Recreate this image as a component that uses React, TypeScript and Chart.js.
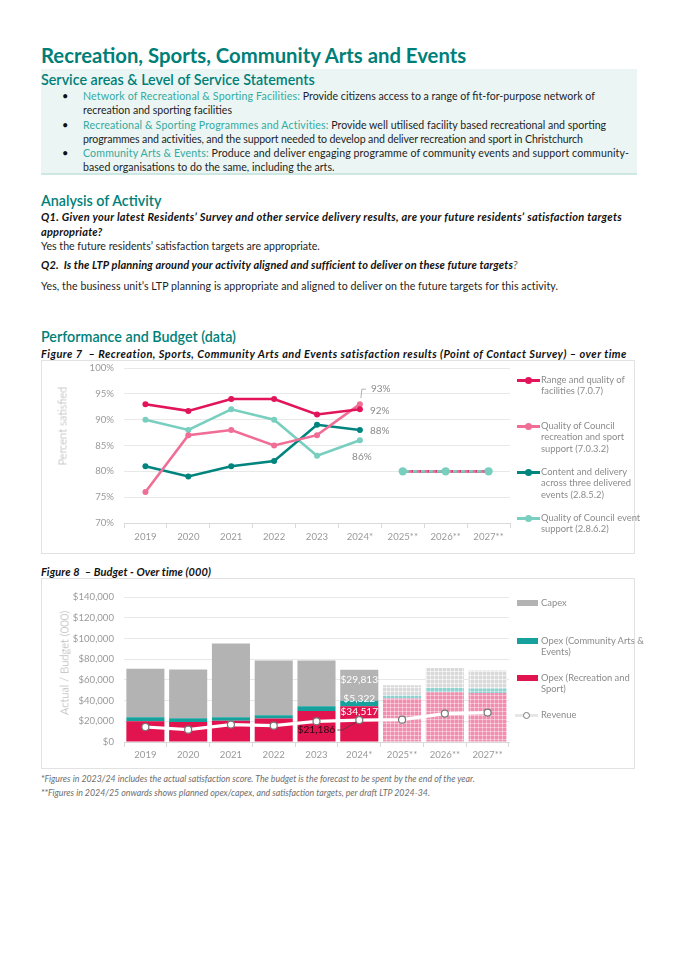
import React, { useEffect, useRef } from "react";
import { Chart, registerables } from "chart.js";

Chart.register(...registerables);

// ---------- DATA ----------
const years = ["2019", "2020", "2021", "2022", "2023", "2024*", "2025**", "2026**", "2027**"];

// Figure 7 – satisfaction (%)
const facilities = [93, 91.7, 94, 94, 91, 92, null, null, null];
const recSupport = [76, 87, 88, 85, 87, 93, null, null, null];
const eventsDelivery = [81, 79, 81, 82, 89, 88, null, null, null];
const eventSupport = [90, 88, 92, 90, 83, 86, null, null, null];
const targets = [null, null, null, null, null, null, 80, 80, 80];
const pctMin = 70;
const pctMax = 100;
const pctStep = 5;

// Figure 8 – budget ($000)
const opexRec = [20000, 19400, 20600, 22600, 30000, 34517, 41900, 48000, 47400];
const opexArts = [3900, 3500, 3300, 3200, 4500, 5322, 2900, 4200, 4200];
const capex = [46800, 47100, 71300, 52900, 44200, 29813, 10000, 19300, 17400];
const revenue = [14500, 11900, 16800, 15800, 20000, 21186, 21600, 27400, 28400];
const budgetMax = 140000;
const budgetStep = 20000;
const firstPlannedIndex = 6;
const labelIndex = 5;

const legend1 = [
  ["Range and quality of", "facilities (7.0.7)"],
  ["Quality of Council", "recreation and sport", "support (7.0.3.2)"],
  ["Content and delivery", "across three delivered", "events (2.8.5.2)"],
  ["Quality of Council event", "support (2.8.6.2)"],
];
const legend2 = [["Capex"], ["Opex (Community Arts &", "Events)"], ["Opex (Recreation and", "Sport)"], ["Revenue"]];

// ---------- STYLE ----------
const FONT = "Lato, 'Noto Sans', sans-serif";
const TEAL_HEAD = "#007F79";
const TEAL_LEAD = "#34AAA0";
const C_FAC = "#E2145A";
const C_REC = "#F06E96";
const C_DEL = "#00847E";
const C_EVT = "#79CFBF";
const B_CAP = "#B3B3B3";
const B_ART = "#16A19C";
const B_REC = "#E11450";
const GRID = "#E8E8E8";
const TICK = "#9A9A9A";
const TICK_SIZE = 9.6;

Chart.defaults.font.family = FONT;

const fmt = (v: number) => v.toLocaleString("en-US");

function T(props: { x: number; y: number; size: number; lh?: number; style?: any; children: any }) {
  const lh = props.lh ?? Math.round(props.size * 1.3);
  return (
    <div
      style={{
        position: "absolute",
        left: props.x,
        top: props.y - lh / 2,
        lineHeight: lh + "px",
        height: lh,
        fontSize: props.size,
        whiteSpace: "pre",
        ...props.style,
      }}
    >
      {props.children}
    </div>
  );
}

function makePattern(base: string, line: string) {
  const c = document.createElement("canvas");
  c.width = 4;
  c.height = 4;
  const g = c.getContext("2d")!;
  g.fillStyle = base;
  g.fillRect(0, 0, 4, 4);
  g.fillStyle = line;
  g.fillRect(0, 0, 4, 1);
  g.fillRect(0, 0, 1, 4);
  return g.createPattern(c, "repeat")!;
}

const yAfterFit = (axis: any) => {
  axis.width = 82;
  axis.paddingTop = 0;
  axis.paddingBottom = 0;
};

function SatisfactionChart() {
  const ref = useRef<HTMLCanvasElement>(null);
  useEffect(() => {
    const labelPlugin = {
      id: "satLabels",
      afterDatasetsDraw(chart: any) {
        const ctx = chart.ctx;
        const i = labelIndex;
        const pF = chart.getDatasetMeta(0).data[i];
        const pR = chart.getDatasetMeta(1).data[i];
        const pD = chart.getDatasetMeta(2).data[i];
        const pE = chart.getDatasetMeta(3).data[i];
        ctx.save();
        ctx.font = "10px " + FONT;
        ctx.fillStyle = "#8A8A8A";
        ctx.textBaseline = "middle";
        ctx.textAlign = "left";
        ctx.strokeStyle = "#A0A0A0";
        ctx.lineWidth = 0.8;
        ctx.beginPath();
        ctx.moveTo(pR.x + 1, pR.y - 6);
        ctx.lineTo(pR.x + 2, pR.y - 15);
        ctx.lineTo(pR.x + 6, pR.y - 15);
        ctx.stroke();
        ctx.fillText(recSupport[i] + "%", pR.x + 11, pR.y - 15);
        ctx.fillText(facilities[i] + "%", pF.x + 10, pF.y + 1);
        ctx.fillText(eventsDelivery[i] + "%", pD.x + 10, pD.y + 1);
        ctx.textAlign = "center";
        ctx.fillText(eventSupport[i] + "%", pE.x + 2, pE.y + 16);
        ctx.restore();
      },
    };
    const main = (label: string, data: any[], color: string) => ({
      label,
      data,
      borderColor: color,
      backgroundColor: color,
      pointBackgroundColor: color,
      borderWidth: 2.6,
      pointRadius: 3,
      pointHoverRadius: 3,
      pointBorderWidth: 0,
      order: 5,
    });
    const future = (color: string, offset: number, radius: number, order: number) => ({
      label: "target",
      data: targets,
      borderColor: color,
      backgroundColor: color,
      pointBackgroundColor: color,
      borderWidth: 2.6,
      borderDash: [4, 4],
      borderDashOffset: offset,
      pointRadius: radius,
      pointHoverRadius: radius,
      pointBorderWidth: 0,
      order,
    });
    const chart = new Chart(ref.current!, {
      type: "line",
      data: {
        labels: years,
        datasets: [
          main(legend1[0].join(" "), facilities, C_FAC),
          main(legend1[1].join(" "), recSupport, C_REC),
          main(legend1[2].join(" "), eventsDelivery, C_DEL),
          main(legend1[3].join(" "), eventSupport, C_EVT),
          future(C_FAC, 0, 0, 4),
          future(C_REC, 3, 0, 1),
          future(C_DEL, 5, 0, 2),
          future(C_EVT, 6, 4.2, 0),
        ],
      },
      options: {
        animation: false,
        responsive: true,
        maintainAspectRatio: false,
        layout: { padding: { left: 0, right: 10, top: 7, bottom: 0 } },
        plugins: { legend: { display: false }, tooltip: { enabled: false } },
        scales: {
          x: {
            offset: true,
            grid: { drawOnChartArea: false, drawTicks: true, tickLength: 5, color: "#D9D9D9", offset: true },
            border: { color: "#D9D9D9" },
            ticks: { color: TICK, font: { size: TICK_SIZE }, padding: 3, maxRotation: 0 },
            afterFit: (axis: any) => {
              axis.height = 30;
            },
          },
          y: {
            min: pctMin,
            max: pctMax,
            ticks: { stepSize: pctStep, callback: (v: any) => v + "%", color: TICK, font: { size: TICK_SIZE }, padding: 10 },
            grid: { color: GRID, drawTicks: false },
            border: { display: false },
            afterFit: yAfterFit,
          },
        },
      } as any,
      plugins: [labelPlugin],
    });
    return () => chart.destroy();
  }, []);
  return (
    <div style={{ position: "absolute", left: 0, top: 0, width: 478, height: 192 }}>
      <canvas ref={ref} />
    </div>
  );
}

function BudgetChart() {
  const ref = useRef<HTMLCanvasElement>(null);
  useEffect(() => {
    const pRec = makePattern("#F28DB0", "rgba(255,255,255,0.4)");
    const pArt = makePattern("#8DD3D0", "rgba(255,255,255,0.4)");
    const pCap = makePattern("#D9D9D9", "rgba(255,255,255,0.55)");
    const colors = (solid: string, pat: any) => years.map((_, i) => (i >= firstPlannedIndex ? pat : solid));
    const labelPlugin = {
      id: "budgetLabels",
      afterDatasetsDraw(chart: any) {
        const ctx = chart.ctx;
        const i = labelIndex;
        const bRec = chart.getDatasetMeta(0).data[i];
        const bArt = chart.getDatasetMeta(1).data[i];
        const bCap = chart.getDatasetMeta(2).data[i];
        const rv = chart.getDatasetMeta(3).data[i];
        ctx.save();
        ctx.font = "10.2px " + FONT;
        ctx.textBaseline = "middle";
        ctx.textAlign = "center";
        ctx.fillStyle = "#FFFFFF";
        ctx.fillText("$" + fmt(capex[i]), bCap.x, bCap.y + 10);
        ctx.fillText("$" + fmt(opexArts[i]), bArt.x, bArt.y - 2);
        ctx.fillText("$" + fmt(opexRec[i]), bRec.x, bRec.y + 5);
        ctx.strokeStyle = "#5A3540";
        ctx.lineWidth = 0.8;
        ctx.beginPath();
        ctx.moveTo(rv.x - 22, rv.y + 10);
        ctx.lineTo(rv.x - 17, rv.y + 10);
        ctx.lineTo(rv.x - 3, rv.y + 2);
        ctx.stroke();
        ctx.textAlign = "right";
        ctx.fillStyle = "#2A0A14";
        ctx.fillText("$" + fmt(revenue[i]), rv.x - 24, rv.y + 10);
        ctx.restore();
      },
    };
    const chart = new Chart(ref.current!, {
      type: "bar",
      data: {
        labels: years,
        datasets: [
          { type: "bar", label: legend2[2].join(" "), data: opexRec, backgroundColor: colors(B_REC, pRec), order: 2 },
          { type: "bar", label: legend2[1].join(" "), data: opexArts, backgroundColor: colors(B_ART, pArt), order: 2 },
          { type: "bar", label: legend2[0].join(" "), data: capex, backgroundColor: colors(B_CAP, pCap), order: 2 },
          {
            type: "line",
            label: legend2[3].join(" "),
            data: revenue,
            borderColor: "#FFFFFF",
            borderWidth: 3.2,
            pointRadius: 3.5,
            pointHoverRadius: 3.5,
            pointBackgroundColor: "#FFFFFF",
            pointBorderColor: "#777777",
            pointBorderWidth: 1.2,
            order: 0,
          },
        ],
      },
      options: {
        animation: false,
        responsive: true,
        maintainAspectRatio: false,
        layout: { padding: { left: 0, right: 7, top: 18, bottom: 0 } },
        datasets: { bar: { barPercentage: 0.89, categoryPercentage: 1 } },
        plugins: { legend: { display: false }, tooltip: { enabled: false } },
        scales: {
          x: {
            stacked: true,
            grid: { drawOnChartArea: false, drawTicks: true, tickLength: 5, color: "#D9D9D9", offset: true },
            border: { color: "#D9D9D9" },
            ticks: { color: TICK, font: { size: TICK_SIZE }, padding: 2, maxRotation: 0 },
            afterFit: (axis: any) => {
              axis.height = 27;
            },
          },
          y: {
            stacked: true,
            min: 0,
            max: budgetMax,
            ticks: {
              stepSize: budgetStep,
              callback: (v: any) => "$" + fmt(v),
              color: TICK,
              font: { size: TICK_SIZE },
              padding: 10,
            },
            grid: { color: GRID, drawTicks: false },
            border: { display: false },
            afterFit: yAfterFit,
          },
        },
      } as any,
      plugins: [labelPlugin],
    });
    return () => chart.destroy();
  }, []);
  return (
    <div style={{ position: "absolute", left: 0, top: 0, width: 474, height: 190 }}>
      <canvas ref={ref} />
    </div>
  );
}

function LineSwatch(props: { x: number; y: number; color: string; dot?: string; border?: string; h?: number }) {
  return (
    <>
      <div
        style={{
          position: "absolute",
          left: props.x,
          top: props.y - (props.h ?? 3) / 2,
          width: 23,
          height: props.h ?? 3,
          background: props.color,
        }}
      />
      <div
        style={{
          position: "absolute",
          left: props.x + 8,
          top: props.y - 3.5,
          width: 7,
          height: 7,
          borderRadius: 4,
          boxSizing: "border-box",
          background: props.dot ?? props.color,
          border: props.border ? "1.3px solid " + props.border : "none",
        }}
      />
    </>
  );
}

export default function App() {
  const legText = { color: "#8C8C8C", fontFamily: FONT };
  const body = { color: "#1E1E1E" };
  const bi = { fontWeight: 700, fontStyle: "italic", color: "#111" };
  const head = { color: TEAL_HEAD, fontWeight: 600 };
  const axisTitle = {
    position: "absolute" as const,
    transform: "translate(-50%,-50%) rotate(-90deg)",
    whiteSpace: "nowrap" as const,
    fontSize: 11.2,
    fontWeight: 300,
    color: "#A6A6A6",
  };
  const leg1Y = [380, 426, 472, 518];
  const leg1C = [C_FAC, C_REC, C_DEL, C_EVT];
  const leg2Y = [603, 641, 678, 715];
  const LEG = 9.4;
  return (
    <div
      style={{
        position: "absolute",
        left: 0,
        top: 0,
        width: 675,
        height: 955,
        background: "#fff",
        fontFamily: FONT,
        overflow: "hidden",
      }}
    >
      <T x={41} y={55} size={20.3} style={{ color: TEAL_HEAD, fontWeight: 700 }}>
        Recreation, Sports, Community Arts and Events
      </T>
      <div
        style={{
          position: "absolute",
          left: 41,
          top: 69,
          width: 596,
          height: 104,
          background: "#EBF6F4",
          borderBottom: "2px solid #CDE8E3",
        }}
      />
      <T x={41} y={79} size={14.3} style={head}>
        Service areas &amp; Level of Service Statements
      </T>
      {[96, 125, 153].map((y) => (
        <T key={y} x={62} y={y} size={11} style={{ color: "#111" }}>
          •
        </T>
      ))}
      <T x={83} y={96} size={10.6} style={body}>
        <span style={{ color: TEAL_LEAD, letterSpacing: 0.15 }}>Network of Recreational &amp; Sporting Facilities:</span>{" "}
        Provide citizens access to a range of fit-for-purpose network of
      </T>
      <T x={83} y={110} size={10.6} style={body}>
        recreation and sporting facilities
      </T>
      <T x={83} y={125} size={10.6} style={body}>
        <span style={{ color: TEAL_LEAD, letterSpacing: 0.15 }}>Recreational &amp; Sporting Programmes and Activities:</span>{" "}
        Provide well utilised facility based recreational and sporting
      </T>
      <T x={83} y={139} size={10.6} style={{ ...body, letterSpacing: -0.12 }}>
        programmes and activities, and the support needed to develop and deliver recreation and sport in Christchurch
      </T>
      <T x={83} y={153} size={10.6} style={{ ...body, letterSpacing: 0.1 }}>
        <span style={{ color: TEAL_LEAD, letterSpacing: 0.15 }}>Community Arts &amp; Events:</span> Produce and deliver
        engaging programme of community events and support community-
      </T>
      <T x={83} y={167} size={10.6} style={body}>
        based organisations to do the same, including the arts.
      </T>

      <T x={41} y={200} size={14.3} style={head}>
        Analysis of Activity
      </T>
      <T x={41} y={217} size={11} style={{ ...bi, letterSpacing: 0.29 }}>
        Q1. Given your latest Residents’ Survey and other service delivery results, are your future residents’
        satisfaction targets
      </T>
      <T x={41} y={232} size={11} style={{ ...bi, letterSpacing: 0.2 }}>
        appropriate?
      </T>
      <T x={41} y={246} size={10.6} style={body}>
        Yes the future residents’ satisfaction targets are appropriate.
      </T>
      <T x={41} y={265} size={11} style={{ ...bi, letterSpacing: 0.12 }}>
        {"Q2.  Is the LTP planning around your activity aligned and sufficient to deliver on these future targets"}
        <span style={{ fontWeight: 400, color: "#555" }}>?</span>
      </T>
      <T x={41} y={286} size={10.6} style={{ ...body, letterSpacing: 0.07 }}>
        Yes, the business unit’s LTP planning is appropriate and aligned to deliver on the future targets for this
        activity.
      </T>

      <T x={41} y={336} size={14.3} style={head}>
        Performance and Budget (data)
      </T>
      <T x={41} y={354} size={11} style={{ ...bi, letterSpacing: 0.48 }}>
        {"Figure 7  – Recreation, Sports, Community Arts and Events satisfaction results (Point of Contact Survey) – over time"}
      </T>

      {/* Figure 7 box */}
      <div
        style={{
          position: "absolute",
          left: 41,
          top: 360,
          width: 594,
          height: 194,
          boxSizing: "border-box",
          border: "1px solid #E2E2E2",
        }}
      >
        <SatisfactionChart />
      </div>
      <div style={{ ...axisTitle, left: 62, top: 426 }}>Percent satisfied</div>
      {legend1.map((lines, k) => (
        <React.Fragment key={k}>
          <LineSwatch x={517} y={leg1Y[k]} color={leg1C[k]} />
          {lines.map((ln, j) => (
            <T key={j} x={541} y={leg1Y[k] + j * 11.4} size={LEG} lh={12} style={legText}>
              {ln}
            </T>
          ))}
        </React.Fragment>
      ))}

      <T x={41} y={572} size={11} style={{ ...bi, letterSpacing: 0.1 }}>
        {"Figure 8  – Budget - Over time (000)"}
      </T>
      {/* Figure 8 box */}
      <div
        style={{
          position: "absolute",
          left: 41,
          top: 578,
          width: 594,
          height: 191,
          boxSizing: "border-box",
          border: "1px solid #E2E2E2",
        }}
      >
        <BudgetChart />
      </div>
      <div style={{ ...axisTitle, left: 64, top: 663 }}>Actual / Budget (000)</div>
      <div style={{ position: "absolute", left: 517, top: leg2Y[0] - 3, width: 21, height: 6, background: B_CAP }} />
      <div style={{ position: "absolute", left: 517, top: leg2Y[1] - 3, width: 21, height: 6, background: B_ART }} />
      <div style={{ position: "absolute", left: 517, top: leg2Y[2] - 3, width: 21, height: 6, background: B_REC }} />
      <LineSwatch x={515} y={leg2Y[3]} color="#E6E6E6" dot="#FFFFFF" border="#777777" />
      {legend2.map((lines, k) =>
        lines.map((ln, j) => (
          <T key={k + "-" + j} x={541} y={leg2Y[k] + j * 11.2} size={LEG} lh={12} style={legText}>
            {ln}
          </T>
        ))
      )}

      <T x={41} y={778} size={8.8} style={{ fontStyle: "italic", color: "#6E6E6E" }}>
        *Figures in 2023/24 includes the actual satisfaction score. The budget is the forecast to be spent by the end of
        the year.
      </T>
      <T x={41} y={792} size={8.8} style={{ fontStyle: "italic", color: "#6E6E6E" }}>
        **Figures in 2024/25 onwards shows planned opex/capex, and satisfaction targets, per draft LTP 2024-34.
      </T>
    </div>
  );
}
